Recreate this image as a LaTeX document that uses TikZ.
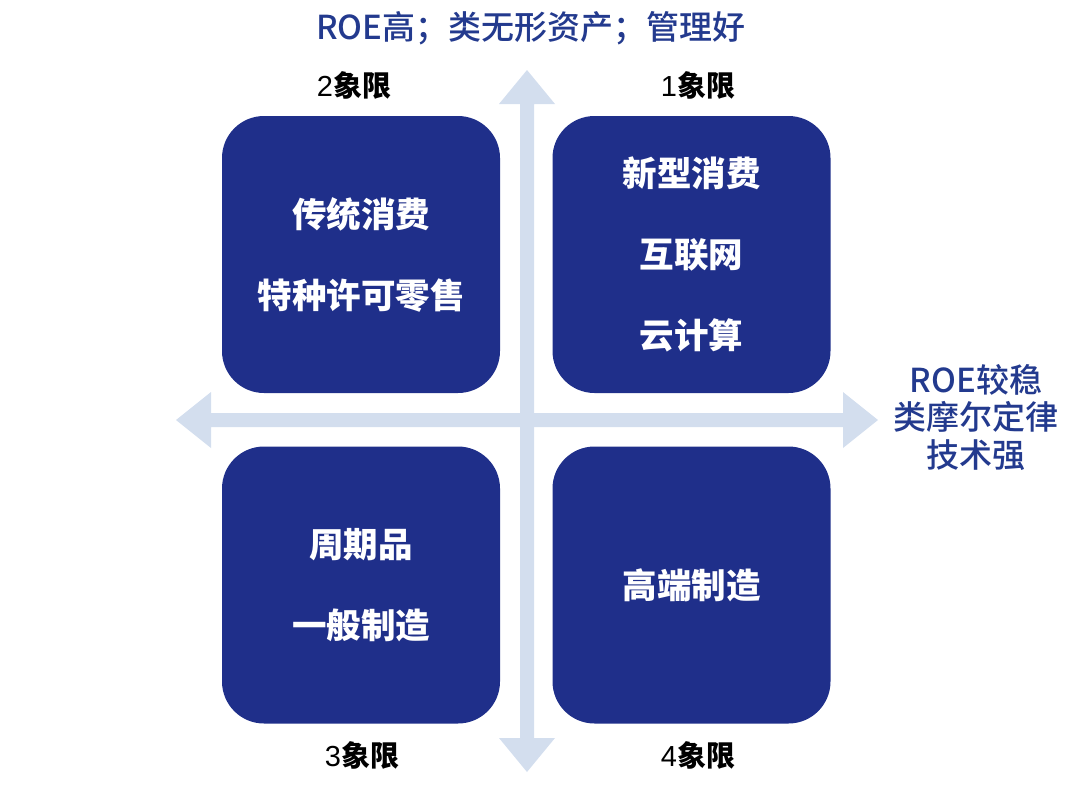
\documentclass[tikz,border=0pt]{standalone}
\usepackage{fontspec}
\setmainfont{Noto Sans CJK SC}
\newfontfamily\medfont{Noto Sans CJK SC Medium}
\newfontfamily\latinfont{Liberation Sans}
\definecolor{boxblue}{HTML}{1F2F8A}
\definecolor{arrowblue}{HTML}{D3DEEE}
\definecolor{titleblue}{HTML}{233A8E}
\tikzset{
  quad/.style={fill=boxblue, rounded corners=42pt, minimum width=278pt, minimum height=277pt,
    inner sep=0pt, text=white, align=center, font=\fontsize{34.5}{81}\selectfont\bfseries},
  qlabel/.style={text=black, inner sep=0pt, font=\fontsize{29}{34}\selectfont\bfseries},
  axislabel/.style={text=titleblue, inner sep=0pt, align=center, font=\fontsize{33}{37.5}\selectfont\medfont},
  axisarrow/.style={fill=arrowblue, draw=none}
}
\begin{document}
\begin{tikzpicture}[x=1pt,y=-1pt]
\useasboundingbox (0,0) rectangle (1080,793);
% axes
\coordinate (vt) at (527,70);
\coordinate (vb) at (527,772);
\coordinate (hl) at (176,420);
\coordinate (hr) at (878,420);
\fill[axisarrow] (vt) -- ++(28,34) -- ++(-21,0) -- (534,738) -- ++(21,0) -- (vb) -- (499,738) -- ++(21,0) -- (520,104) -- ++(-21,0) -- cycle;
\fill[axisarrow] (hl) -- ++(35,-28) -- ++(0,21) -- (843,413) -- ++(0,-21) -- (hr) -- (843,448) -- ++(0,-21) -- (211,427) -- ++(0,21) -- cycle;
% quadrants
\node[quad] (q2) at (361,254.5) {传统消费\\特种许可零售};
\node[quad] (q1) at (691.5,254.5) {新型消费\\互联网\\云计算};
\node[quad] (q3) at (361,585) {周期品\\一般制造};
\node[quad] (q4) at (691.5,585) {高端制造};
% labels
\node[qlabel] (l2) at (354,85) {{\mdseries\latinfont 2}象限};
\node[qlabel] (l1) at (698,85) {{\mdseries\latinfont 1}象限};
\node[qlabel] (l3) at (362,755) {{\mdseries\latinfont 3}象限};
\node[qlabel] (l4) at (698,755) {{\mdseries\latinfont 4}象限};
\node[axislabel] (top) at (531,28) {ROE高；类无形资产；管理好};
\node[axislabel] (right) at (976,417) {ROE较稳\\类摩尔定律\\技术强};
\end{tikzpicture}
\end{document}
